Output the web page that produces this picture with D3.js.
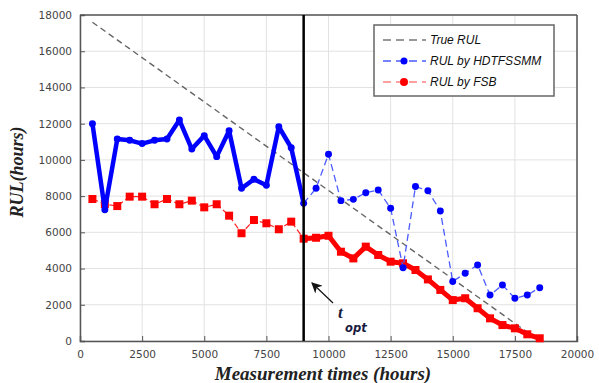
<!DOCTYPE html>
<html>
<head>
<meta charset="utf-8">
<script src="https://cdn.jsdelivr.net/npm/d3@7"></script>
<style>
  body { margin: 0; background: #fff; }
  svg { display: block; }
</style>
</head>
<body>
<div id="chart"></div>
<script>
var width = 599;
var height = 383;

// measurement times (hours)
var times = [500, 1000, 1500, 2000, 2500, 3000, 3500, 4000, 4500, 5000, 5500, 6000, 6500,
  7000, 7500, 8000, 8500, 9000, 9500, 10000, 10500, 11000, 11500, 12000, 12500, 13000,
  13500, 14000, 14500, 15000, 15500, 16000, 16500, 17000, 17500, 18000, 18500];
var hdtfssmm = [12000, 7250, 11150, 11080, 10900, 11080, 11150, 12200, 10600, 11340, 10180, 11610, 8430,
  8930, 8600, 11830, 10670, 7600, 8430, 10310, 7750, 7820, 8190, 8340, 7330, 4050,
  8530, 8300, 7180, 3280, 3740, 4200, 2540, 3090, 2360, 2540, 2940];
var fsb = [7840, 7560, 7450, 7970, 7970, 7550, 7840, 7550, 7750, 7380, 7550, 6920, 5950,
  6680, 6500, 6170, 6590, 5650, 5700, 5810, 4930, 4560, 5210, 4750, 4380, 4290,
  3920, 3400, 2820, 2260, 2360, 1810, 1250, 880, 700, 370, 150];
var trueRulTimes = [500, 18500];
var trueRulVals = [17600, 0];
var tOpt = 9000;

var xTicks = [0, 2500, 5000, 7500, 10000, 12500, 15000, 17500, 20000];
var yTicks = [0, 2000, 4000, 6000, 8000, 10000, 12000, 14000, 16000, 18000];
var legendLabels = ['True RUL', 'RUL by HDTFSSMM', 'RUL by FSB'];

var pLeft = 80, pRight = 577, pTop = 15, pBottom = 341;

var svg = d3.select('#chart').append('svg')
  .attr('width', width)
  .attr('height', height);

var x = d3.scaleLinear().domain([0, 20000]).range([pLeft, pRight]);
var y = d3.scaleLinear().domain([0, 18000]).range([pBottom, pTop]);

// grid
svg.append('g').selectAll('line').data(xTicks).enter().append('line')
  .attr('x1', d => x(d)).attr('x2', d => x(d))
  .attr('y1', pTop).attr('y2', pBottom)
  .attr('stroke', '#e2e2e2').attr('stroke-width', 1);
svg.append('g').selectAll('line').data(yTicks).enter().append('line')
  .attr('x1', pLeft).attr('x2', pRight)
  .attr('y1', d => y(d)).attr('y2', d => y(d))
  .attr('stroke', '#e2e2e2').attr('stroke-width', 1);

// axes
var xAxis = svg.append('g').attr('transform', 'translate(0,' + pBottom + ')')
  .call(d3.axisBottom(x).tickValues(xTicks).tickSize(-5).tickPadding(10).tickFormat(d3.format('d')));
var yAxis = svg.append('g').attr('transform', 'translate(' + pLeft + ',0)')
  .call(d3.axisLeft(y).tickValues(yTicks).tickSize(-5).tickPadding(8).tickFormat(d3.format('d')));
[xAxis, yAxis].forEach(function (a) {
  a.select('.domain').attr('stroke', '#555').attr('stroke-width', 1.5);
  a.selectAll('.tick line').attr('stroke', '#555');
  a.selectAll('.tick text').attr('fill', '#444').style('font-family', 'DejaVu Sans, sans-serif').style('font-size', '10.5px');
});
// top and right box edges
svg.append('line').attr('x1', pLeft).attr('x2', pRight).attr('y1', pTop).attr('y2', pTop)
  .attr('stroke', '#555').attr('stroke-width', 1.5);
svg.append('line').attr('x1', pRight).attr('x2', pRight).attr('y1', pTop).attr('y2', pBottom)
  .attr('stroke', '#555').attr('stroke-width', 1.5);

var line = d3.line().x(d => x(d[0])).y(d => y(d[1]));
var blue = times.map((t, i) => [t, hdtfssmm[i]]);
var red = times.map((t, i) => [t, fsb[i]]);
var before = d => d[0] <= tOpt;
var after = d => d[0] >= tOpt;

// true RUL
svg.append('path')
  .attr('d', line(trueRulTimes.map((t, i) => [t, trueRulVals[i]])))
  .attr('fill', 'none').attr('stroke', '#666').attr('stroke-width', 1.4)
  .attr('stroke-dasharray', '6,4');

// FSB before t_opt: thin dashed
svg.append('path').attr('d', line(red.filter(before)))
  .attr('fill', 'none').attr('stroke', '#ff2020').attr('stroke-width', 1.2)
  .attr('stroke-dasharray', '6,3');
// FSB after t_opt: thick
svg.append('path').attr('d', line(red.filter(after)))
  .attr('fill', 'none').attr('stroke', '#ff0000').attr('stroke-width', 5)
  .attr('stroke-linejoin', 'round');
svg.append('g').selectAll('rect').data(red).enter().append('rect')
  .attr('x', d => x(d[0]) - 4).attr('y', d => y(d[1]) - 4)
  .attr('width', 8).attr('height', 8).attr('fill', '#ff0000');

// HDTFSSMM before t_opt: thick
svg.append('path').attr('d', line(blue.filter(before)))
  .attr('fill', 'none').attr('stroke', '#0000ff').attr('stroke-width', 4.5)
  .attr('stroke-linejoin', 'round');
// HDTFSSMM after t_opt: thin dashed
svg.append('path').attr('d', line(blue.filter(after)))
  .attr('fill', 'none').attr('stroke', '#4a5cff').attr('stroke-width', 1.3)
  .attr('stroke-dasharray', '7,4');
svg.append('g').selectAll('path').data(blue).enter().append('path')
  .attr('transform', d => 'translate(' + x(d[0]) + ',' + y(d[1]) + ')')
  .attr('d', d3.symbol().type(d3.symbolCircle).size(38))
  .attr('fill', '#0000ff');

// t_opt vertical line
svg.append('line').attr('x1', x(tOpt)).attr('x2', x(tOpt))
  .attr('y1', pTop).attr('y2', pBottom)
  .attr('stroke', '#000').attr('stroke-width', 2.5);

// arrow + t_opt label
svg.append('defs').append('marker').attr('id', 'arr')
  .attr('viewBox', '0 0 10 10').attr('refX', 9).attr('refY', 5)
  .attr('markerWidth', 9).attr('markerHeight', 9).attr('orient', 'auto-start-reverse')
  .append('path').attr('d', 'M0,0 L10,5 L0,10 L3,5 Z').attr('fill', '#111');
svg.append('line').attr('x1', 333).attr('y1', 303).attr('x2', 312).attr('y2', 283)
  .attr('stroke', '#111').attr('stroke-width', 1.2).attr('marker-end', 'url(#arr)');
svg.append('text').attr('x', 338).attr('y', 318)
  .style('font-family', 'Liberation Serif, Times New Roman, serif').style('font-style', 'italic')
  .style('font-weight', 'bold').style('font-size', '17px').attr('fill', '#1a1a40').text('t');
svg.append('text').attr('x', 345).attr('y', 332)
  .style('font-family', 'DejaVu Sans, sans-serif').style('font-style', 'italic')
  .style('font-weight', 'bold').style('font-size', '11.5px').attr('fill', '#1a1a40').text('opt');

// legend
var lg = svg.append('g');
lg.append('rect').attr('x', 374).attr('y', 25).attr('width', 180).attr('height', 71)
  .attr('fill', '#fff').attr('stroke', '#666').attr('stroke-width', 1.5);
var rows = [40, 61, 82];
var legStroke = ['#777', '#4a5cff', '#ff8080'];
rows.forEach(function (ry, i) {
  lg.append('line').attr('x1', 383).attr('x2', 426).attr('y1', ry).attr('y2', ry)
    .attr('stroke', legStroke[i]).attr('stroke-width', 1.5).attr('stroke-dasharray', '8,5');
  if (i === 1) lg.append('circle').attr('cx', 404).attr('cy', ry).attr('r', 3.5).attr('fill', '#0000ff');
  if (i === 2) lg.append('circle').attr('cx', 404).attr('cy', ry).attr('r', 4).attr('fill', '#ff0000');
  lg.append('text').attr('x', 430).attr('y', ry + 4).text(legendLabels[i])
    .style('font-family', 'Arial, Liberation Sans, sans-serif').style('font-style', 'italic')
    .style('font-size', '12px').attr('fill', '#111');
});

// axis titles
svg.append('text').attr('transform', 'translate(23,172) rotate(-90)')
  .attr('text-anchor', 'middle')
  .style('font-family', 'Liberation Serif, Times New Roman, serif').style('font-style', 'italic')
  .style('font-weight', 'bold').style('font-size', '18px').attr('fill', '#222').text('RUL(hours)');
svg.append('text').attr('x', 323).attr('y', 380).attr('text-anchor', 'middle')
  .style('font-family', 'Liberation Serif, Times New Roman, serif').style('font-style', 'italic')
  .style('font-weight', 'bold').style('font-size', '19px').attr('fill', '#222').text('Measurement times (hours)');
</script>
</body>
</html>
